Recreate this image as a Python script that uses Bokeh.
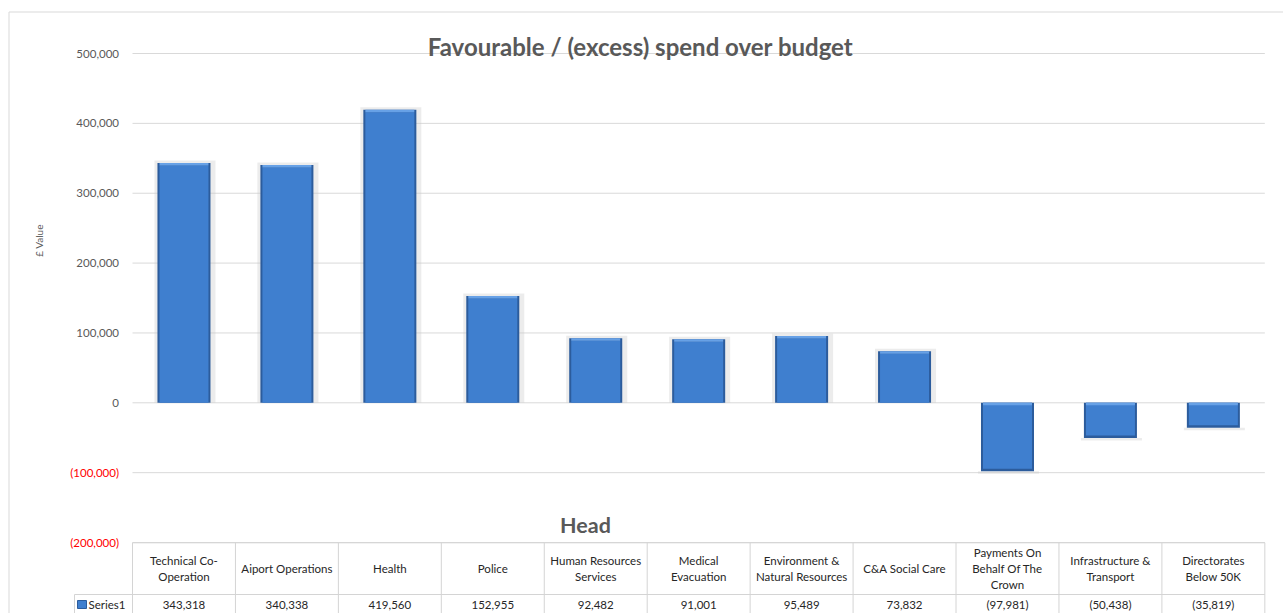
import math
from bokeh.plotting import figure
from bokeh.models import Range1d
from bokeh.embed import file_html
from bokeh.resources import INLINE
from bokeh.core.properties import value

# ---------------- data ----------------
categories = [
    "Technical Co-Operation", "Aiport Operations", "Health", "Police",
    "Human Resources Services", "Medical Evacuation",
    "Environment & Natural Resources", "C&A Social Care",
    "Payments On Behalf Of The Crown", "Infrastructure & Transport",
    "Directorates Below 50K",
]
header_lines = [
    ["Technical Co-", "Operation"], ["Aiport Operations"], ["Health"], ["Police"],
    ["Human Resources", "Services"], ["Medical", "Evacuation"],
    ["Environment &", "Natural Resources"], ["C&A Social Care"],
    ["Payments On", "Behalf Of The", "Crown"], ["Infrastructure &", "Transport"],
    ["Directorates", "Below 50K"],
]
values = [343318, 340338, 419560, 152955, 92482, 91001, 95489, 73832, -97981, -50438, -35819]
y_ticks = [-200000, -100000, 0, 100000, 200000, 300000, 400000, 500000]
series_name = "Series1"
chart_title = "Favourable / (excess) spend over budget"
x_title = "Head"
y_title = "£ Value"

# ---------------- geometry (canvas pixels -> data) ----------------
W, H = 1283, 613
COL_PX = 102.94
X0_PX = 132.0
Y0_PX = 402.3
PX_PER_UNIT = 69.86 / 100000.0


def xd(px):
    return (px - X0_PX) / COL_PX


def yd(py):
    return (Y0_PX - py) / PX_PER_UNIT


p = figure(width=W, height=H, output_backend="svg", toolbar_location=None,
           x_range=Range1d(xd(0), xd(W)), y_range=Range1d(yd(H), yd(0)),
           x_axis_type=None, y_axis_type=None, min_border=0)
p.title.visible = False
p.outline_line_color = None
p.grid.visible = False
p.background_fill_color = "white"
p.border_fill_color = "white"

FONT = value("Lato")
GRID = "#d9d9d9"
n = len(categories)
xc = [i + 0.5 for i in range(n)]

# outer chart border (top / left)
p.segment(x0=[xd(8.5)], x1=[xd(W)], y0=[yd(11.5)], y1=[yd(11.5)], line_color=GRID, line_width=1)
p.segment(x0=[xd(8.5)], x1=[xd(8.5)], y0=[yd(11.5)], y1=[yd(H)], line_color=GRID, line_width=1)

# gridlines
p.segment(x0=[0] * len(y_ticks), x1=[n] * len(y_ticks), y0=y_ticks, y1=y_ticks,
          line_color=GRID, line_width=1)

# tick labels
tick_text = [f"{t:,}" if t >= 0 else f"({-t:,})" for t in y_ticks]
tick_col = ["#595959" if t >= 0 else "#ff0000" for t in y_ticks]
p.text(x=[xd(118.5)] * len(y_ticks), y=y_ticks, text=tick_text, text_color=tick_col,
       text_font=FONT, text_font_size="11.5px", text_align="right", text_baseline="middle")

# bars: soft shadow, dark edge, main body, top highlight
BW = 0.515
dx = 2.0 / COL_PX
dy = 2.5 / PX_PER_UNIT
sh_top = [v + (dy if v > 0 else 0) for v in values]
sh_bot = [0 if v > 0 else v - dy for v in values]
p.vbar(x=[c + 1.0 / COL_PX for c in xc], top=sh_top, bottom=sh_bot, width=BW + 4 * dx,
       fill_color="#c8c8c8", fill_alpha=0.35, line_color=None)
p.vbar(x=xc, top=values, bottom=0, width=BW, fill_color="#2c5c9c", line_color=None)
inner_top = [v - dy if v > 0 else 0 for v in values]
inner_bot = [0 if v > 0 else v + dy for v in values]
p.vbar(x=xc, top=inner_top, bottom=inner_bot, width=BW - 2 * dx, fill_color="#3f7fcf", line_color=None)
hi_top = [max(v, 0) for v in values]
hi_bot = [max(v, 0) - dy for v in values]
p.vbar(x=xc, top=hi_top, bottom=hi_bot, width=BW - 2 * dx, fill_color="#67a1e6", line_color=None)

# titles
p.text(x=[xd(640)], y=[yd(46)], text=[chart_title], text_font=FONT, text_font_style="bold",
       text_font_size="24px", text_color="#595959", text_align="center", text_baseline="alphabetic")
p.text(x=[xd(585)], y=[yd(524)], text=[x_title], text_font=FONT, text_font_style="bold",
       text_font_size="21.5px", text_color="#595959", text_align="center", text_baseline="alphabetic")
p.text(x=[xd(38)], y=[yd(240)], text=[y_title], text_font=FONT, text_font_size="10px",
       text_color="#595959", text_align="center", text_baseline="middle", angle=math.pi / 2)

# data table
TBL = "#d4d4d4"
top_px, mid_px, bot_px = 542.3, 594.0, H + 2
p.segment(x0=[0], x1=[n], y0=[yd(top_px)], y1=[yd(top_px)], line_color=TBL)
p.segment(x0=[xd(74)], x1=[n], y0=[yd(mid_px)], y1=[yd(mid_px)], line_color=TBL)
vx = list(range(n + 1))
p.segment(x0=vx, x1=vx, y0=[yd(top_px)] * len(vx), y1=[yd(bot_px)] * len(vx), line_color=TBL)
p.segment(x0=[xd(74)], x1=[xd(74)], y0=[yd(mid_px)], y1=[yd(bot_px)], line_color=TBL)

hx, hy, ht = [], [], []
row_c = (top_px + mid_px) / 2
for i, lines in enumerate(header_lines):
    k = len(lines)
    for j, s in enumerate(lines):
        hx.append(i + 0.5)
        hy.append(yd(row_c + (j - (k - 1) / 2) * 15.7))
        ht.append(s)
p.text(x=hx, y=hy, text=ht, text_font=FONT, text_font_size="11.5px", text_color="#262626",
       text_align="center", text_baseline="middle")

val_text = [f"{v:,}" if v >= 0 else f"({-v:,})" for v in values]
data_y = yd(604)
p.text(x=xc, y=[data_y] * n, text=val_text, text_font=FONT, text_font_size="11.5px",
       text_color="#262626", text_align="center", text_baseline="middle")

# legend key + series name
p.rect(x=[xd(81.5)], y=[data_y], width=9, height=8, width_units="screen", height_units="screen",
       fill_color="#3f7fcf", line_color="#2c5c9c")
p.text(x=[xd(88)], y=[data_y], text=[series_name], text_font=FONT, text_font_size="11.5px",
       text_color="#262626", text_align="left", text_baseline="middle")

open("out.html", "w").write(file_html(p, INLINE))
